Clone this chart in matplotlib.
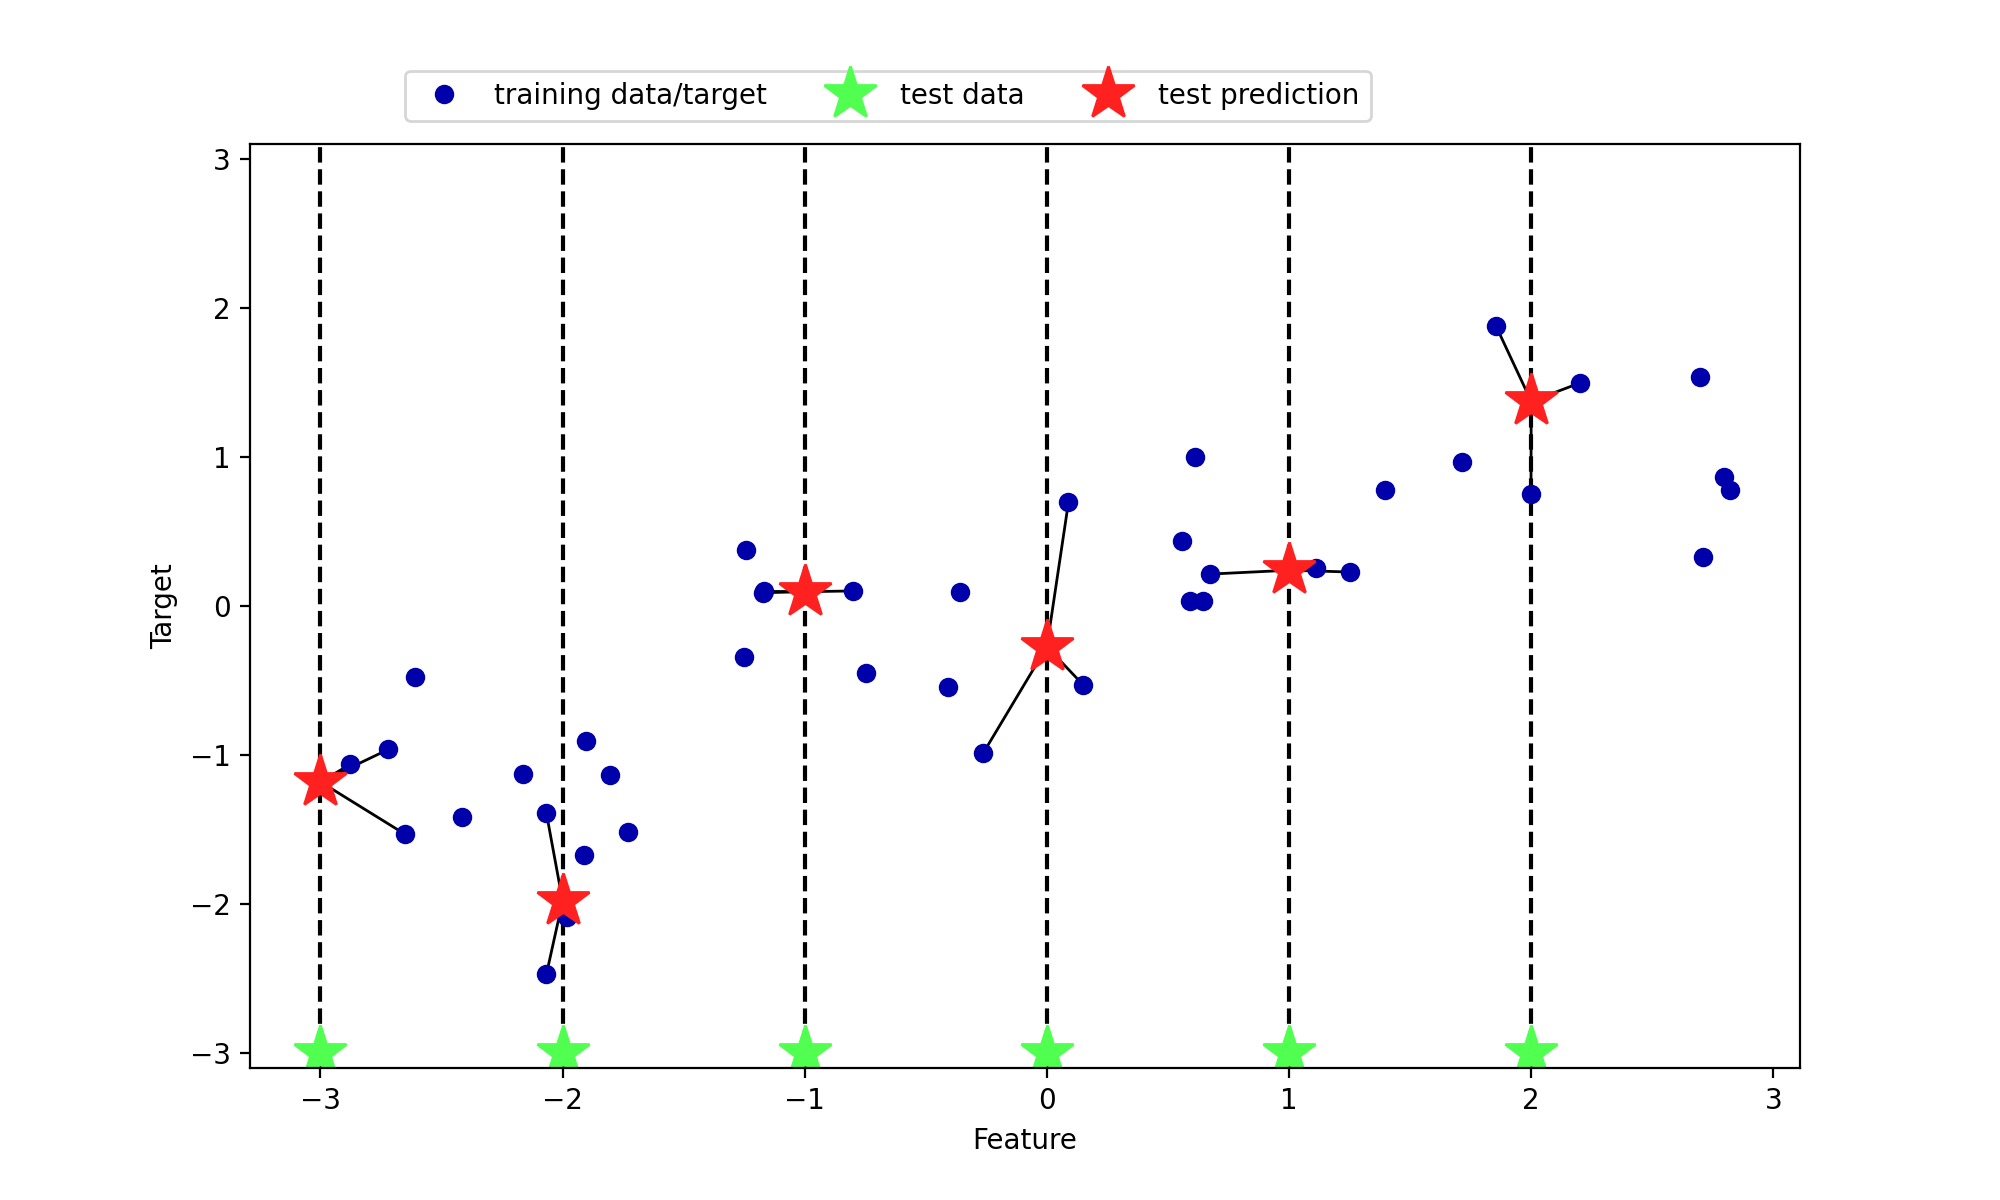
import numpy as np
import matplotlib
matplotlib.use("Agg")
import matplotlib.pyplot as plt

# training points
x_train = np.array([-2.876, -2.719, -2.609, -2.650, -2.416, -2.165, -2.067, -2.067,
                    -1.980, -1.902, -1.804, -1.910, -1.730, -1.243, -1.249, -1.173,
                    -1.170, -0.799, -0.749, -0.357, -0.408, -0.263, 0.089, 0.150,
                    0.556, 0.611, 0.591, 0.646, 0.672, 1.110, 1.252, 1.397,
                    1.715, 1.855, 2.202, 1.999, 2.697, 2.796, 2.819, 2.709])
y_train = np.array([-1.062, -0.962, -0.479, -1.532, -1.416, -1.130, -1.389, -2.472,
                    -2.085, -0.906, -1.136, -1.671, -1.519, 0.376, -0.342, 0.089,
                    0.098, 0.101, -0.452, 0.094, -0.544, -0.987, 0.696, -0.530,
                    0.436, 1.000, 0.031, 0.031, 0.214, 0.255, 0.228, 0.776,
                    0.964, 1.877, 1.497, 0.750, 1.535, 0.866, 0.776, 0.329])

x_test = np.array([-3, -2, -1, 0, 1, 2])
y_pred = np.array([-1.180, -1.980, 0.096, -0.273, 0.240, 1.373])
n_neighbors = 3

c_train = '#0000aa'
c_pred = '#ff2020'
c_test = '#50ff50'

plt.figure(figsize=(10, 6), dpi=200)

plt.vlines(x_test, -3.1, 3.1, linestyle="--", colors='k')

# lines from each prediction to its nearest training points
for xt, yp in zip(x_test, y_pred):
    dist = np.abs(x_train - xt)
    for nb in np.argsort(dist)[:n_neighbors]:
        plt.plot([xt, x_train[nb]], [yp, y_train[nb]], color='k', lw=1)

train, = plt.plot(x_train, y_train, 'o', c=c_train)
test, = plt.plot(x_test, -3 * np.ones(len(x_test)), '*', c=c_test, markersize=20)
pred, = plt.plot(x_test, y_pred, '*', c=c_pred, markersize=20)

plt.legend([train, test, pred], ["training data/target", "test data", "test prediction"],
           ncol=3, loc=(.1, 1.025))
plt.ylim(-3.1, 3.1)
plt.xlabel("Feature")
plt.ylabel("Target")

plt.savefig("out.png")
